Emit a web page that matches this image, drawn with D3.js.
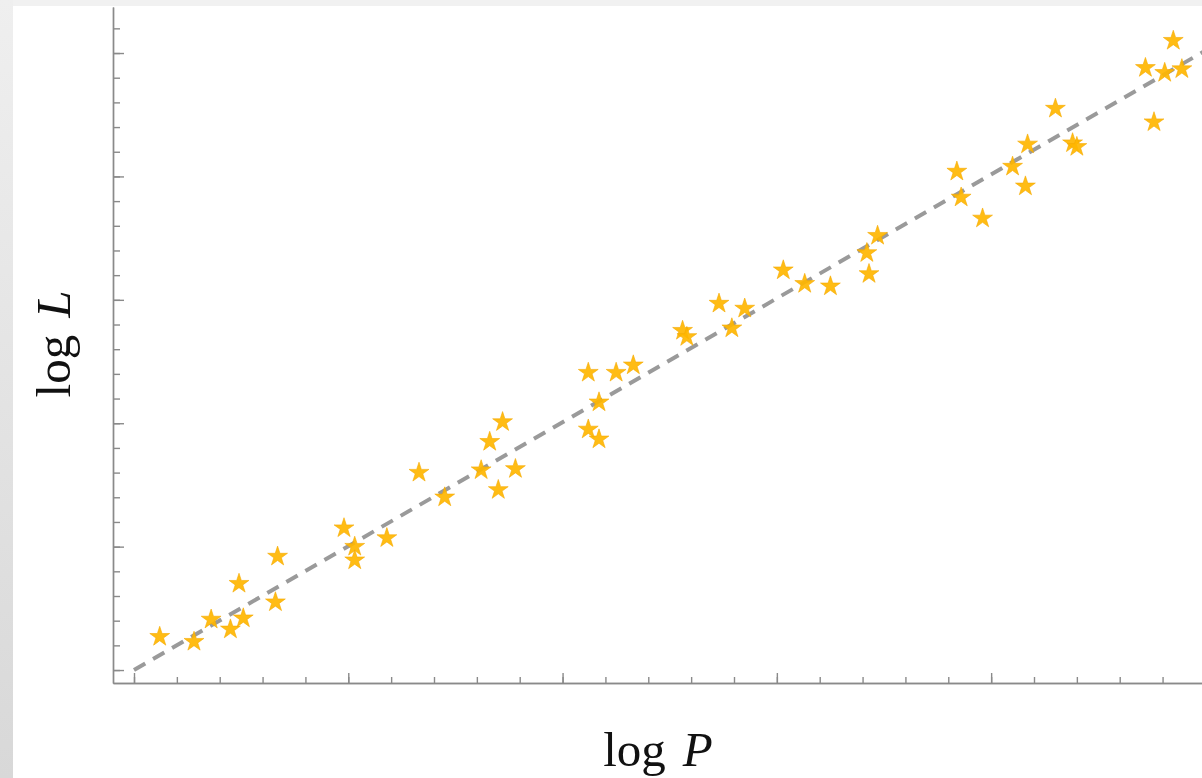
<!DOCTYPE html>
<html>
<head>
<meta charset="utf-8">
<script src="https://cdn.jsdelivr.net/npm/d3@7"></script>
<style>
  html, body { margin: 0; padding: 0; background: #f1f1f1; }
  svg { display: block; }
</style>
</head>
<body>
<svg id="chart"></svg>
<script>
// star positions (log P, log L in tick units)
const logP = [0.12, 0.28, 0.36, 0.45, 0.51, 0.49, 0.66, 0.67, 0.98, 1.03,
              1.03, 1.18, 1.33, 1.45, 1.62, 1.66, 1.72, 1.70, 1.78, 2.12,
              2.25, 2.33, 2.17, 2.12, 2.17, 2.56, 2.58, 2.73, 2.85, 2.79,
              3.03, 3.13, 3.25, 3.42, 3.43, 3.47, 3.84, 3.86, 3.96, 4.10,
              4.16, 4.17, 4.30, 4.38, 4.40, 4.72, 4.76, 4.81, 4.85, 4.89];
const logL = [0.27, 0.23, 0.41, 0.33, 0.42, 0.70, 0.55, 0.92, 1.15, 1.00,
              0.89, 1.07, 1.60, 1.40, 1.62, 1.85, 2.01, 1.46, 1.63, 2.41,
              2.41, 2.47, 2.17, 1.95, 1.87, 2.75, 2.70, 2.97, 2.93, 2.77,
              3.24, 3.13, 3.11, 3.38, 3.21, 3.52, 4.04, 3.83, 3.66, 4.08,
              3.92, 4.26, 4.55, 4.27, 4.24, 4.88, 4.44, 4.84, 5.10, 4.87];

// dashed fit line end points
const fitP = [0, 5];
const fitL = [0, 5.02];

const majorP = [0, 1, 2, 3, 4];
const majorL = [0, 1, 2, 3, 4, 5];

const svgWidth = 1202, svgHeight = 778;
const margin = { top: 7, right: 0, bottom: 95, left: 113 };
const width = svgWidth - margin.left - margin.right;
const height = svgHeight - margin.top - margin.bottom;

const svg = d3.select("#chart")
    .attr("width", svgWidth)
    .attr("height", svgHeight);

// slide-like backdrop: grey strips on top and left, white panel
const defs = svg.append("defs");
const grad = defs.append("linearGradient")
    .attr("id", "leftShade")
    .attr("x1", 0).attr("y1", 0).attr("x2", 0).attr("y2", 1);
grad.append("stop").attr("offset", "0%").attr("stop-color", "#efefef");
grad.append("stop").attr("offset", "100%").attr("stop-color", "#d8d8d8");

svg.append("rect").attr("width", svgWidth).attr("height", svgHeight).attr("fill", "#f1f1f1");
svg.append("rect").attr("x", 0).attr("y", 0).attr("width", 13).attr("height", svgHeight)
    .attr("fill", "url(#leftShade)");
svg.append("rect").attr("x", 13).attr("y", 6)
    .attr("width", svgWidth - 13).attr("height", svgHeight - 6).attr("fill", "#ffffff");

defs.append("clipPath").attr("id", "plotClip")
    .append("rect").attr("width", width).attr("height", height);

const g = svg.append("g")
    .attr("transform", `translate(${margin.left}, ${margin.top})`);

// scales (tick units, no labels on the axes)
const xScale = d3.scaleLinear().domain([-0.098, 4.984]).range([0, width]);
const yScale = d3.scaleLinear().domain([-0.105, 5.373]).range([height, 0]);

const minorP = d3.range(0, 5.0, 0.2).filter(v => xScale(v) <= width);
const minorL = d3.range(0, 5.4, 0.2).filter(v => yScale(v) >= 0);

const axisColor = "#8a8a8a";

// X axis
const xAxis = g.append("g")
    .attr("class", "x-axis")
    .attr("transform", `translate(0, ${height})`);
xAxis.append("g")
    .call(d3.axisBottom(xScale).tickValues(minorP).tickSize(-6).tickFormat("").tickSizeOuter(0));
xAxis.append("g")
    .call(d3.axisBottom(xScale).tickValues(majorP).tickSize(-10).tickFormat("").tickSizeOuter(0));

// Y axis
const yAxis = g.append("g").attr("class", "y-axis");
yAxis.append("g")
    .call(d3.axisLeft(yScale).tickValues(minorL).tickSize(-7).tickFormat("").tickSizeOuter(0));
yAxis.append("g")
    .call(d3.axisLeft(yScale).tickValues(majorL).tickSize(-11).tickFormat("").tickSizeOuter(0));

g.selectAll(".x-axis path, .y-axis path, .x-axis line, .y-axis line")
    .attr("stroke", axisColor)
    .attr("stroke-width", 1.4);

// dashed fit line
const line = d3.line()
    .x(d => xScale(d[0]))
    .y(d => yScale(d[1]));

g.append("path")
    .datum(d3.zip(fitP, fitL))
    .attr("clip-path", "url(#plotClip)")
    .attr("fill", "none")
    .attr("stroke", "#9a9a9a")
    .attr("stroke-width", 4)
    .attr("stroke-dasharray", "13,9")
    .attr("d", line);

// stars
const star = d3.symbol().type(d3.symbolStar).size(122);
g.append("g")
    .selectAll("path")
    .data(d3.zip(logP, logL))
    .join("path")
    .attr("transform", d => `translate(${xScale(d[0])}, ${yScale(d[1])})`)
    .attr("d", star)
    .attr("fill", "#ffb600")
    .attr("fill-opacity", 0.92)
    .attr("stroke", "#f5aa00")
    .attr("stroke-width", 0.6);

// axis titles
const titleFont = "'Liberation Serif', 'DejaVu Serif', serif";

const xTitle = svg.append("text")
    .attr("x", 658)
    .attr("y", 766)
    .attr("text-anchor", "middle")
    .style("font-family", titleFont)
    .style("font-size", "49px")
    .style("fill", "#111");
xTitle.append("tspan").text("log");
xTitle.append("tspan").attr("dx", 17).style("font-style", "italic").text("P");

const yTitle = svg.append("text")
    .attr("transform", "translate(70, 344) rotate(-90)")
    .attr("text-anchor", "middle")
    .style("font-family", titleFont)
    .style("font-size", "49px")
    .style("fill", "#111");
yTitle.append("tspan").text("log");
yTitle.append("tspan").attr("dx", 17).style("font-style", "italic").text("L");
</script>
</body>
</html>
